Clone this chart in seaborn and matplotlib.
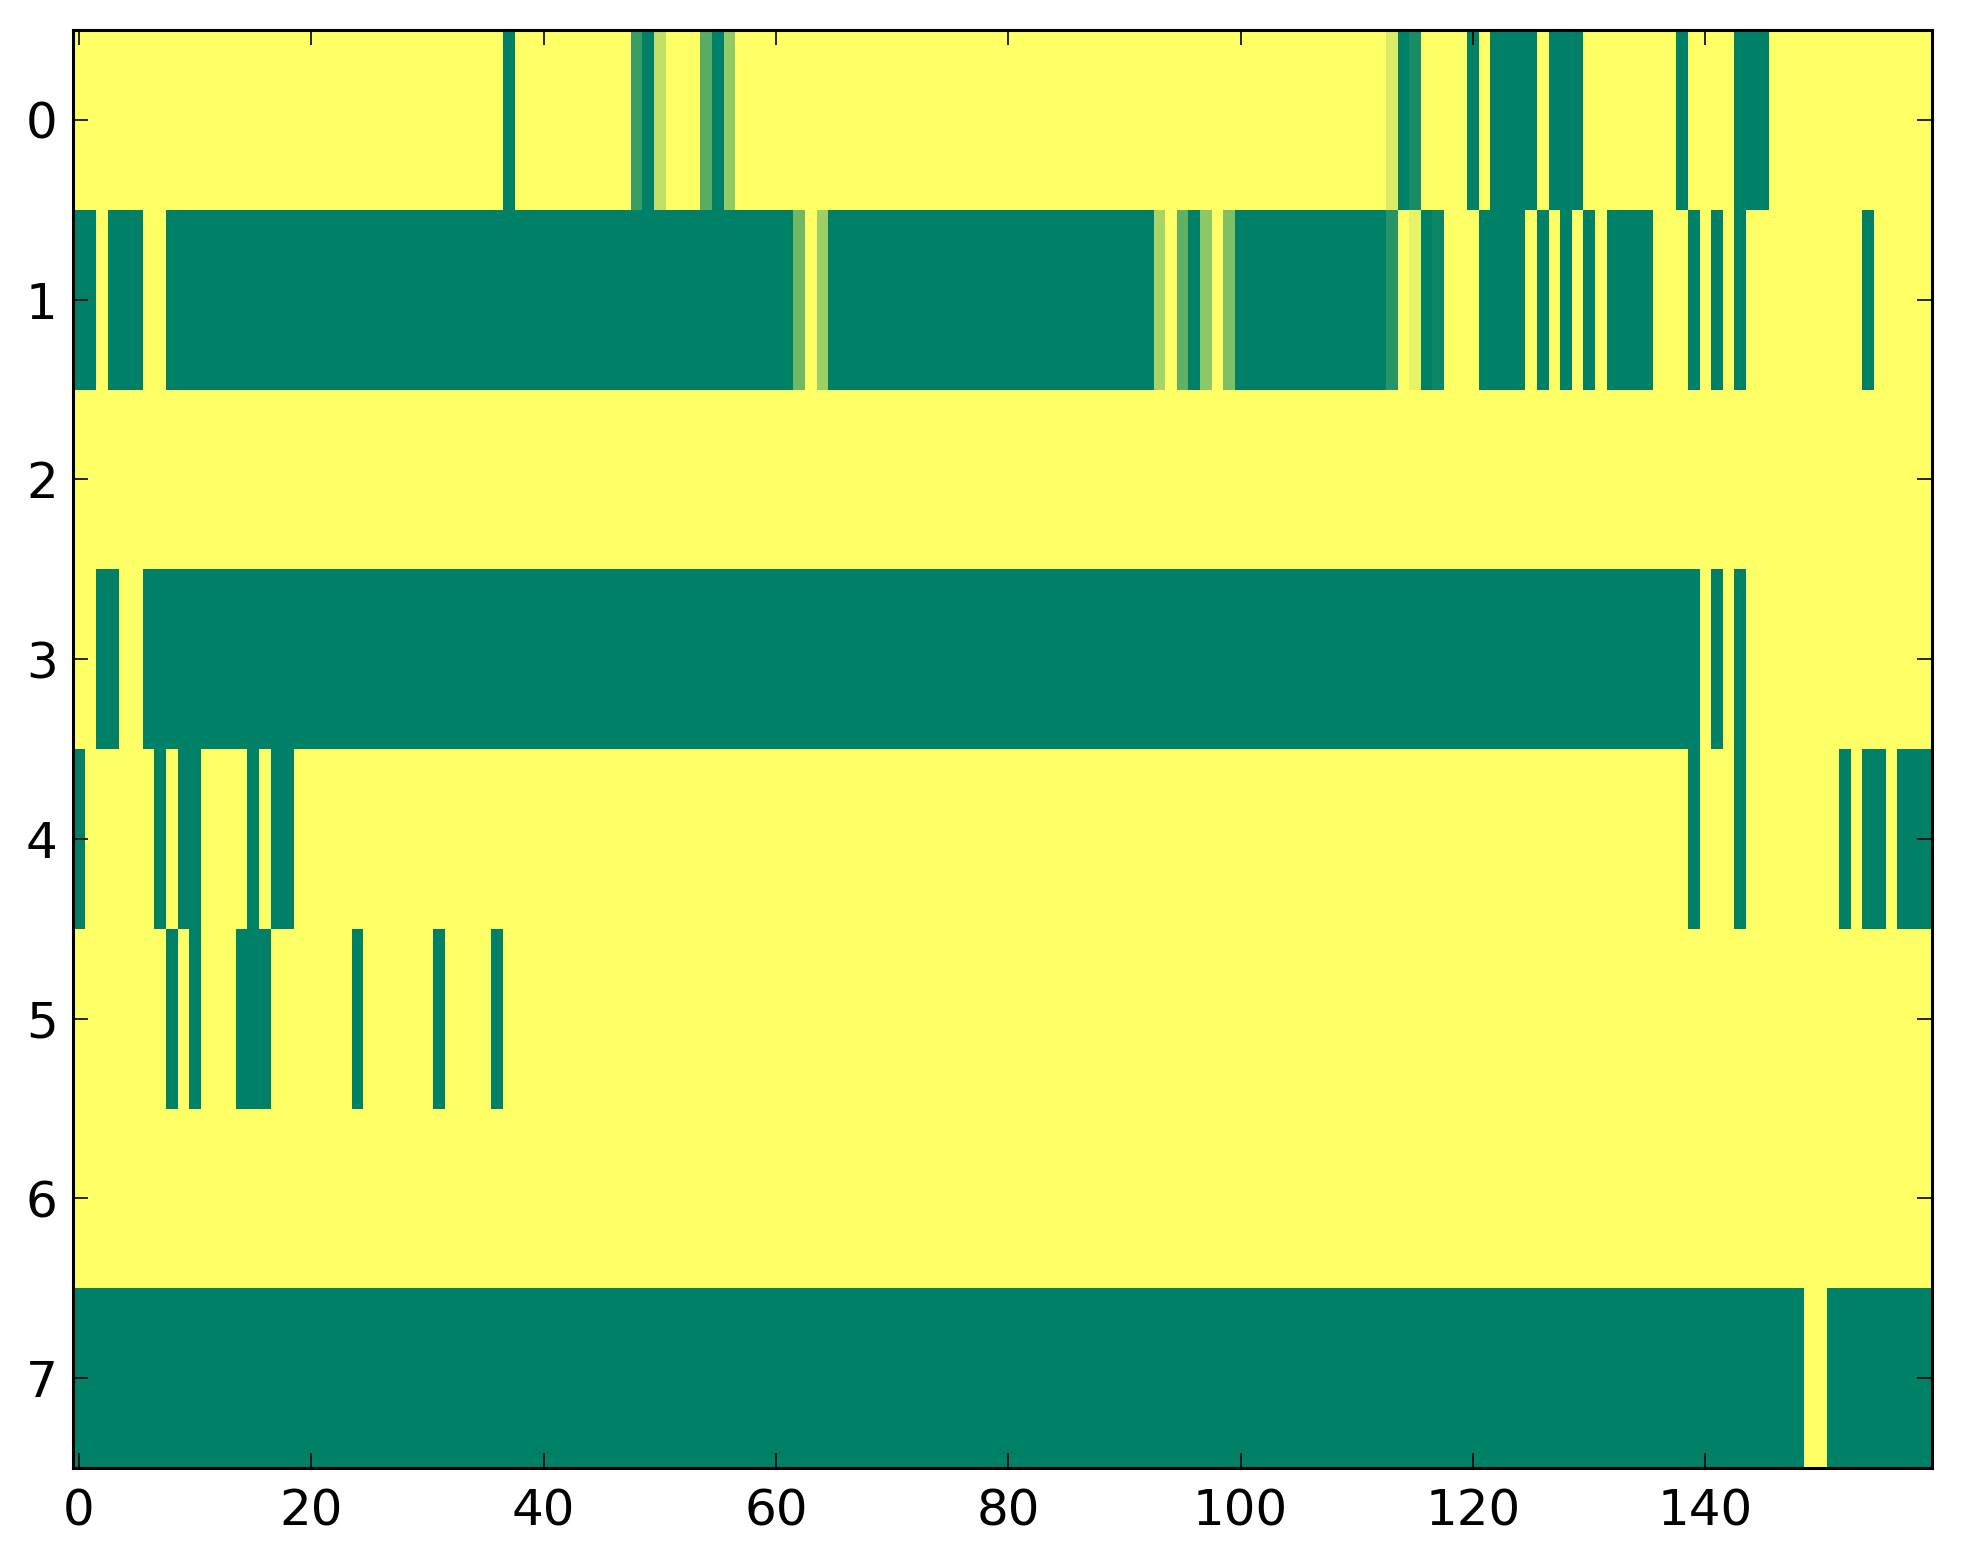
import numpy as np
import pandas as pd
import matplotlib
matplotlib.use("Agg")
import matplotlib.pyplot as plt
import seaborn as sns

# ---------------- data ----------------
n_cols = 160
row_labels = [0, 1, 2, 3, 4, 5, 6, 7]
x_tick_values = [0, 20, 40, 60, 80, 100, 120, 140]

# columns that are fully "on" (value 1.0) for each row
row0_on = [37, 49, 55, 114, 120, 122, 123, 124, 125, 127, 128, 129, 138, 143, 144, 145]
row1_on = ([0, 1, 3, 4, 5] + list(range(8, 62)) + list(range(65, 93)) + [96]
           + list(range(100, 113)) + [116, 121, 122, 123, 124, 126, 128, 130,
                                      132, 133, 134, 135, 139, 141, 143, 154])
row2_on = []
row3_on = [2, 3] + list(range(6, 140)) + [141, 143]
row4_on = [0, 7, 9, 10, 15, 17, 18, 139, 143, 152, 154, 155, 157, 158, 159]
row5_on = [8, 10, 14, 15, 16, 24, 31, 36]
row6_on = []
row7_on = list(range(0, 149)) + list(range(151, 160))

# partial (fractional) cells per row
row0_partial = {48: 0.77, 50: 0.25, 54: 0.65, 56: 0.42, 113: 0.15, 115: 0.90}
row1_partial = {62: 0.56, 64: 0.38, 93: 0.34, 95: 0.62, 97: 0.44, 99: 0.50,
                113: 0.84, 115: 0.10, 117: 0.95}

rows_on = [row0_on, row1_on, row2_on, row3_on, row4_on, row5_on, row6_on, row7_on]
rows_partial = [row0_partial, row1_partial, {}, {}, {}, {}, {}, {}]

matrix = np.zeros((len(row_labels), n_cols))
for r, (on, part) in enumerate(zip(rows_on, rows_partial)):
    matrix[r, on] = 1.0
    for c, v in part.items():
        matrix[r, c] = v

df = pd.DataFrame(matrix, index=row_labels, columns=range(n_cols))

# ---------------- plot ----------------
W, H, DPI = 1963, 1564, 200
fig = plt.figure(figsize=(W / DPI, H / DPI), dpi=DPI)
left, right, top, bottom = 73, 1932, 30, 1468
ax = fig.add_axes([left / W, 1 - bottom / H, (right - left) / W, (bottom - top) / H])

sns.heatmap(df, cmap="summer_r", vmin=0, vmax=1, cbar=False, ax=ax,
            xticklabels=False, yticklabels=False)

ax.set_xticks(np.array(x_tick_values) + 0.5)
ax.set_xticklabels([str(v) for v in x_tick_values])
ax.set_yticks(np.array(row_labels) + 0.5)
ax.set_yticklabels([str(v) for v in row_labels], rotation=0)

for s in ax.spines.values():
    s.set_visible(True)
    s.set_linewidth(1.1)
    s.set_color("black")

ax.tick_params(direction="in", top=True, right=True, bottom=True, left=True,
               length=5.5, width=0.6, labelsize=18, colors="black")
ax.tick_params(axis="x", pad=7)
ax.tick_params(axis="y", pad=5.5)
ax.set_xlabel("")
ax.set_ylabel("")

fig.savefig("out.png", dpi=DPI)
